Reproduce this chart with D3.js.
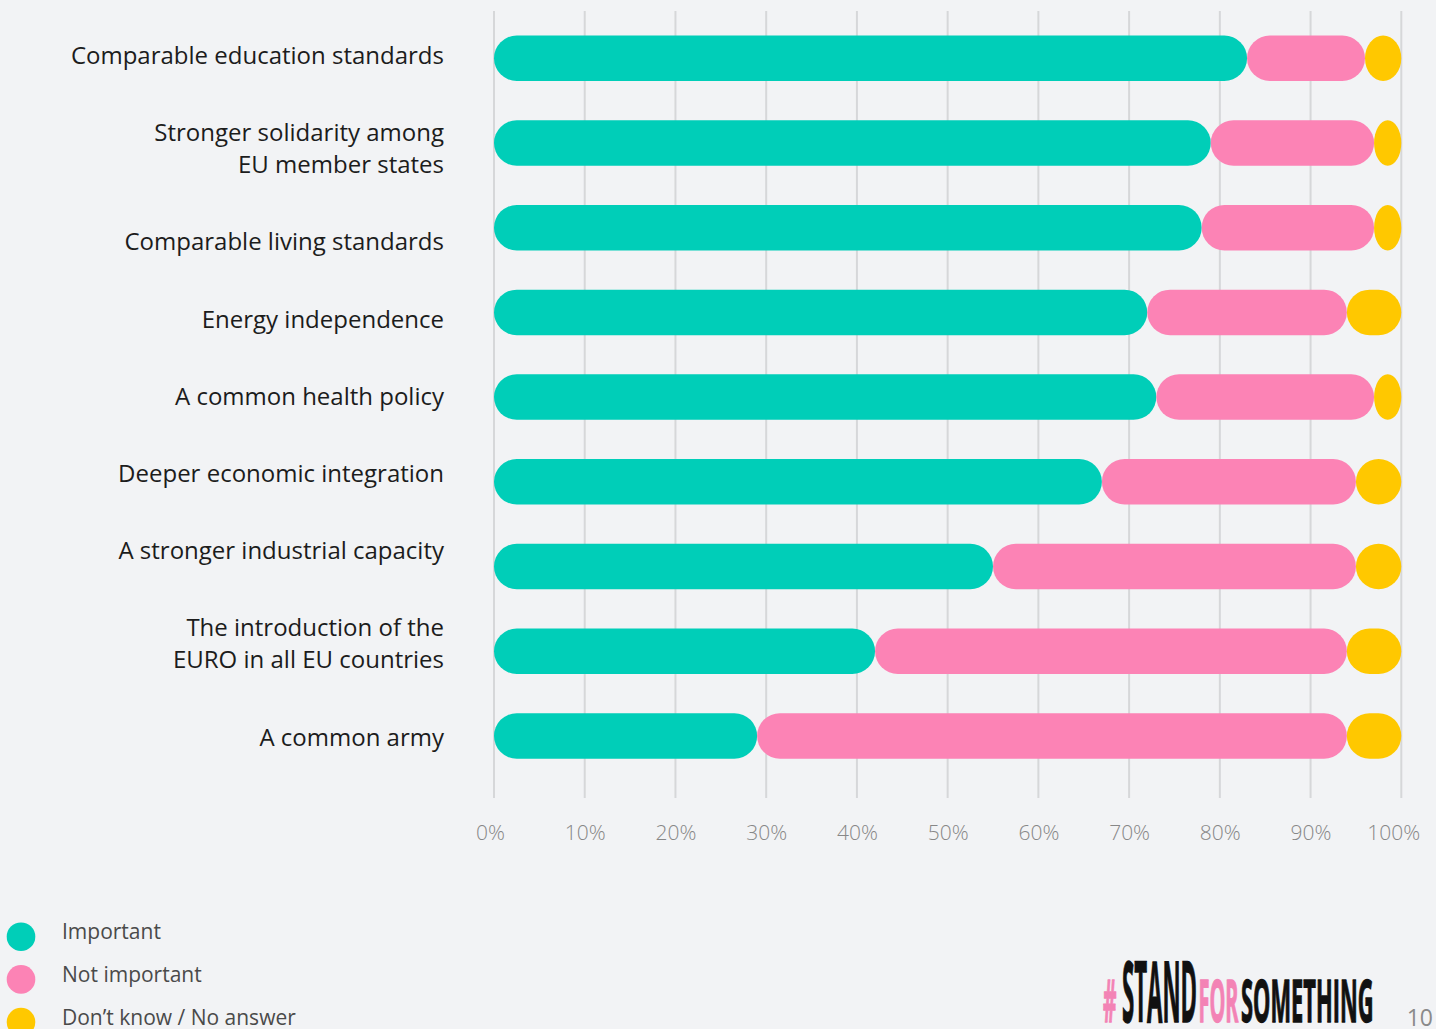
<!DOCTYPE html>
<html>
<head>
<meta charset="utf-8">
<script src="https://cdn.jsdelivr.net/npm/d3@7"></script>
<style>
  html, body { margin: 0; padding: 0; background: #f2f3f5; }
  svg { display: block; }
  text { font-family: "Open Sans", "Noto Sans", sans-serif; }
</style>
</head>
<body>
<svg id="chart" width="1436" height="1029"></svg>
<script>
// Survey topics (label lines) and answer shares in percent
const categories = [
  ["Comparable education standards"],
  ["Stronger solidarity among", "EU member states"],
  ["Comparable living standards"],
  ["Energy independence"],
  ["A common health policy"],
  ["Deeper economic integration"],
  ["A stronger industrial capacity"],
  ["The introduction of the", "EURO in all EU countries"],
  ["A common army"]
];
const important    = [83, 79, 78, 72, 73, 67, 55, 42, 29];
const notImportant = [13, 18, 19, 22, 24, 28, 40, 52, 65];
const dontKnow     = [ 4,  3,  3,  6,  3,  5,  5,  6,  6];

const seriesNames = ["Important", "Not important", "Don’t know / No answer"];
const seriesColors = ["#00ceb8", "#fc83b5", "#ffc800"];
const tickValues = [0, 10, 20, 30, 40, 50, 60, 70, 80, 90, 100];

const svg = d3.select("#chart");

const rows = categories.map((c, i) => ({
  key: i,
  lines: c,
  important: important[i],
  notImportant: notImportant[i],
  dontKnow: dontKnow[i]
}));

const x = d3.scaleLinear().domain([0, 100]).range([494, 1401.3]);
const y = d3.scaleBand()
  .domain(rows.map(d => d.key))
  .range([35.5, 758.7])
  .paddingInner(0.463)
  .paddingOuter(0);

// Vertical gridlines
svg.append("g").selectAll("line")
  .data(tickValues)
  .join("line")
  .attr("x1", d => x(d)).attr("x2", d => x(d))
  .attr("y1", 11).attr("y2", 798)
  .attr("stroke", "#d6d7d9")
  .attr("stroke-width", 2);

// Stacked pill segments
const keys = ["important", "notImportant", "dontKnow"];
const stacked = d3.stack().keys(keys)(rows);
const h = y.bandwidth();

svg.append("g").selectAll("g")
  .data(stacked)
  .join("g")
  .attr("fill", (s, i) => seriesColors[i])
  .selectAll("rect")
  .data(s => s)
  .join("rect")
  .attr("x", d => x(d[0]))
  .attr("y", d => y(d.data.key))
  .attr("width", d => x(d[1]) - x(d[0]))
  .attr("height", h)
  .attr("rx", d => Math.min(h / 2, (x(d[1]) - x(d[0])) / 2))
  .attr("ry", h / 2);

// Category labels, stacked as a text column (two-line items take more room)
const lineH = 32, itemGap = 45.2, capMid = 8.6;
let cursor = 55.4;
const labelCenters = [];
rows.forEach((d, i) => {
  if (i > 0) {
    const prev = rows[i - 1].lines.length * lineH + itemGap;
    const cur = d.lines.length * lineH + itemGap;
    cursor += (prev + cur) / 2;
  }
  labelCenters.push(cursor);
});

const labels = svg.append("g").selectAll("text")
  .data(rows)
  .join("text")
  .attr("text-anchor", "end")
  .attr("font-size", 24)
  .attr("fill", "#1c1c1c");

labels.each(function(d, i) {
  const n = d.lines.length;
  const top = labelCenters[i] - (n - 1) * lineH / 2;
  d3.select(this).selectAll("tspan")
    .data(d.lines)
    .join("tspan")
    .attr("x", 444)
    .attr("y", (t, j) => top + j * lineH + capMid)
    .text(t => t);
});

// Percentage axis
const axis = d3.axisBottom(x)
  .tickValues(tickValues)
  .tickFormat(d => d + "%")
  .tickSize(0)
  .tickPadding(0);

const axisG = svg.append("g")
  .attr("transform", "translate(0,840)")
  .call(axis);
axisG.select(".domain").remove();
axisG.selectAll("text")
  .attr("y", 0)
  .attr("dy", null)
  .attr("dx", d => d === 0 ? -4 : d === 100 ? -8 : 0)
  .attr("font-family", "'Open Sans', sans-serif")
  .attr("font-weight", 300)
  .attr("font-size", 21)
  .attr("fill", "#878787");

// Legend
const legend = svg.append("g").selectAll("g")
  .data(seriesNames)
  .join("g")
  .attr("transform", (d, i) => `translate(0,${936.7 + i * 42.7})`);
legend.append("circle")
  .attr("cx", 21).attr("cy", 0).attr("r", 14.3)
  .attr("fill", (d, i) => seriesColors[i]);
legend.append("text")
  .attr("x", 62).attr("y", 2.6)
  .attr("font-size", 21)
  .attr("fill", "#4a4a4a")
  .text(d => d);

// Campaign wordmark
const logoParts = [
  { t: "#", x0: 1103, x1: 1116.5, big: false, color: "#f383b5" },
  { t: "STAND", x0: 1122, x1: 1197, big: true, color: "#111111" },
  { t: "FOR", x0: 1198.5, x1: 1238.5, big: false, color: "#f383b5" },
  { t: "SOMETHING", x0: 1241, x1: 1373.5, big: false, color: "#111111" }
];
svg.append("g").selectAll("text")
  .data(logoParts)
  .join("text")
  .attr("x", d => d.x0)
  .attr("y", 1022)
  .attr("font-family", "'DejaVu Sans Condensed', 'DejaVu Sans', sans-serif")
  .attr("font-weight", "bold")
  .attr("font-size", d => d.big ? 85 : 59)
  .attr("textLength", d => d.x1 - d.x0)
  .attr("lengthAdjust", "spacingAndGlyphs")
  .attr("fill", d => d.color)
  .attr("stroke", d => d.color)
  .attr("stroke-width", 1.3)
  .text(d => d.t);

// Page number
svg.append("text")
  .attr("x", 1433).attr("y", 1026)
  .attr("text-anchor", "end")
  .attr("font-size", 23)
  .attr("fill", "#8a8a8a")
  .text("10");
</script>
</body>
</html>
